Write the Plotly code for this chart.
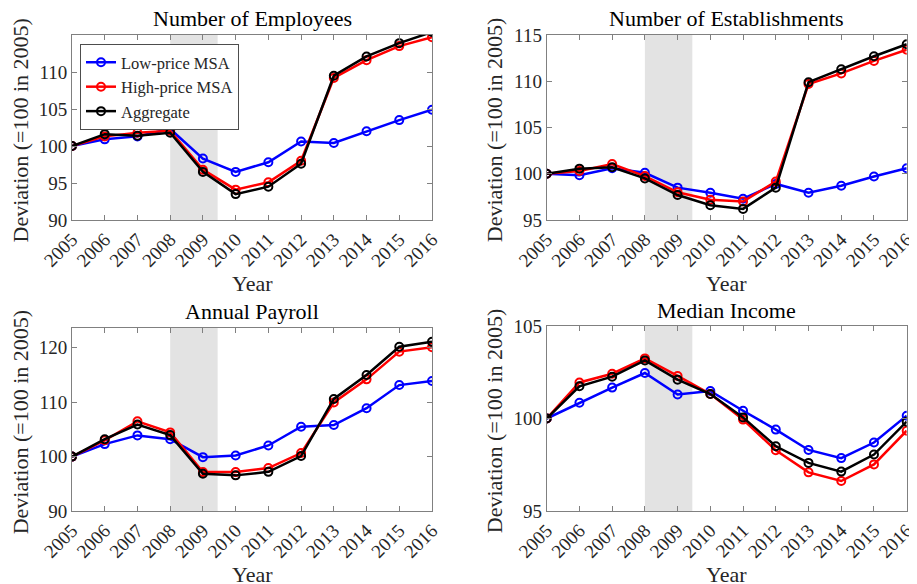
import plotly.graph_objects as go

years = list(range(2005, 2017))

titles = ["Number of Employees", "Number of Establishments", "Annual Payroll", "Median Income"]

emp_low = [100, 100.9, 101.3, 102.3, 98.3, 96.5, 97.8, 100.6, 100.4, 102.0, 103.5, 104.9]
emp_high = [100, 101.3, 101.8, 102.05, 96.8, 94.1, 95.1, 98.0, 109.2, 111.6, 113.5, 114.7]
emp_agg = [100, 101.6, 101.4, 101.8, 96.5, 93.5, 94.5, 97.6, 109.5, 112.1, 113.9, 115.4]

est_low = [100, 99.85, 100.6, 100.1, 98.5, 97.95, 97.3, 98.9, 97.95, 98.7, 99.7, 100.6]
est_high = [100, 100.3, 101.05, 99.75, 98.0, 97.2, 97.0, 99.15, 109.7, 110.85, 112.2, 113.4]
est_agg = [100, 100.55, 100.7, 99.5, 97.7, 96.6, 96.2, 98.5, 109.9, 111.3, 112.7, 114.0]

pay_low = [100, 102.3, 103.9, 103.2, 99.9, 100.2, 102.05, 105.5, 105.8, 108.9, 113.15, 113.9]
pay_high = [100, 103.0, 106.5, 104.45, 97.15, 97.15, 97.9, 100.65, 109.95, 114.2, 119.3, 120.1]
pay_agg = [100, 103.2, 105.9, 103.95, 96.85, 96.55, 97.2, 100.1, 110.6, 115.0, 120.2, 121.1]

inc_low = [100, 100.85, 101.67, 102.46, 101.3, 101.49, 100.42, 99.4, 98.3, 97.86, 98.7, 100.15]
inc_high = [100, 101.95, 102.42, 103.25, 102.3, 101.32, 99.94, 98.28, 97.09, 96.62, 97.52, 99.34]
inc_agg = [100, 101.74, 102.26, 103.14, 102.1, 101.32, 100.06, 98.5, 97.6, 97.13, 98.05, 99.83]

series_names = ["Low-price MSA", "High-price MSA", "Aggregate"]
series_colors = ["#0000ff", "#ff0000", "#000000"]

panels = [
    (emp_low, emp_high, emp_agg),
    (est_low, est_high, est_agg),
    (pay_low, pay_high, pay_agg),
    (inc_low, inc_high, inc_agg),
]
y_ranges = [[90, 115], [95, 115], [90, 123.7], [95, 105]]
y_ticks = [[90, 95, 100, 105, 110], [95, 100, 105, 110, 115], [90, 100, 110, 120], [95, 100, 105]]

recession = [2008, 2009.45]

# page body has an 8px margin: figure is sized so it fills the rest of the window
OFF = 8
W, H = 917 - OFF, 584 - OFF
FONT = "Liberation Serif"
TXT = "#262626"
AX = "#808080"


def px(X):
    return (X - OFF) / W


def py(Y):
    return 1 - (Y - OFF) / H


# panel geometry in screen pixels: (x0, x1, ytop, ybottom)
geom = [
    (72, 432, 35, 220),
    (546.7, 906.7, 35, 220),
    (72, 432, 327.7, 511),
    (546.7, 906.7, 326, 511),
]

fig = go.Figure()
layout = dict(
    width=W, height=H,
    margin=dict(l=0, r=0, t=0, b=0),
    paper_bgcolor="white", plot_bgcolor="white",
    font=dict(family=FONT, color=TXT),
    showlegend=True,
    legend=dict(
        x=px(80), y=py(44), xanchor="left", yanchor="top",
        bgcolor="white", bordercolor="#4d4d4d", borderwidth=1,
        font=dict(family=FONT, size=16.5, color=TXT),
        tracegroupgap=0, itemwidth=30,
    ),
    shapes=[], annotations=[],
)

for i, (data, yr, yt, g) in enumerate(zip(panels, y_ranges, y_ticks, geom)):
    n = "" if i == 0 else str(i + 1)
    xa, ya = "x" + n, "y" + n
    x0, x1, yt_px, yb_px = g
    layout["xaxis" + n] = dict(
        domain=[px(x0), px(x1)], anchor=ya, range=[2005, 2016],
        tickvals=years, ticktext=[str(y) for y in years], tickangle=-45,
        showline=True, linecolor=AX, linewidth=1, mirror="ticks",
        ticks="inside", ticklen=5, tickcolor=AX, showgrid=False, zeroline=False,
        tickfont=dict(family=FONT, size=19, color=TXT), automargin=False,
    )
    layout["yaxis" + n] = dict(
        domain=[py(yb_px), py(yt_px)], anchor=xa, range=yr,
        tickvals=yt, showline=True, linecolor=AX, linewidth=1, mirror="ticks",
        ticks="inside", ticklen=5, tickcolor=AX, showgrid=False, zeroline=False,
        tickfont=dict(family=FONT, size=19, color=TXT), automargin=False,
    )
    layout["shapes"].append(dict(
        type="rect", xref=xa, yref=ya + " domain", x0=recession[0], x1=recession[1],
        y0=0, y1=1, fillcolor="#e3e3e3", line=dict(width=0), layer="below",
    ))
    cx = (x0 + x1) / 2
    layout["annotations"].append(dict(
        text=titles[i], xref="paper", yref="paper", x=px(cx), y=py(yt_px - 16),
        showarrow=False, xanchor="center", yanchor="middle",
        font=dict(family=FONT, size=22, color="#000000"),
    ))
    layout["annotations"].append(dict(
        text="Year", xref="paper", yref="paper", x=px(cx), y=py(yb_px + 63),
        showarrow=False, xanchor="center", yanchor="middle",
        font=dict(family=FONT, size=22, color=TXT),
    ))
    layout["annotations"].append(dict(
        text="Deviation (=100 in 2005)", xref="paper", yref="paper",
        x=px(x0 - 52), y=py((yt_px + yb_px) / 2 + 3), textangle=-90,
        showarrow=False, xanchor="center", yanchor="middle",
        font=dict(family=FONT, size=22, color=TXT),
    ))
    for s, (vals, name, col) in enumerate(zip(data, series_names, series_colors)):
        fig.add_trace(go.Scatter(
            x=years, y=vals, mode="lines+markers", name=name,
            line=dict(color=col, width=2.5),
            marker=dict(symbol="circle-open", size=8, color=col, line=dict(width=2, color=col)),
            xaxis=xa, yaxis=ya, showlegend=(i == 0), legendgroup=name,
        ))

fig.update_layout(**layout)
fig.write_html("out.html")
